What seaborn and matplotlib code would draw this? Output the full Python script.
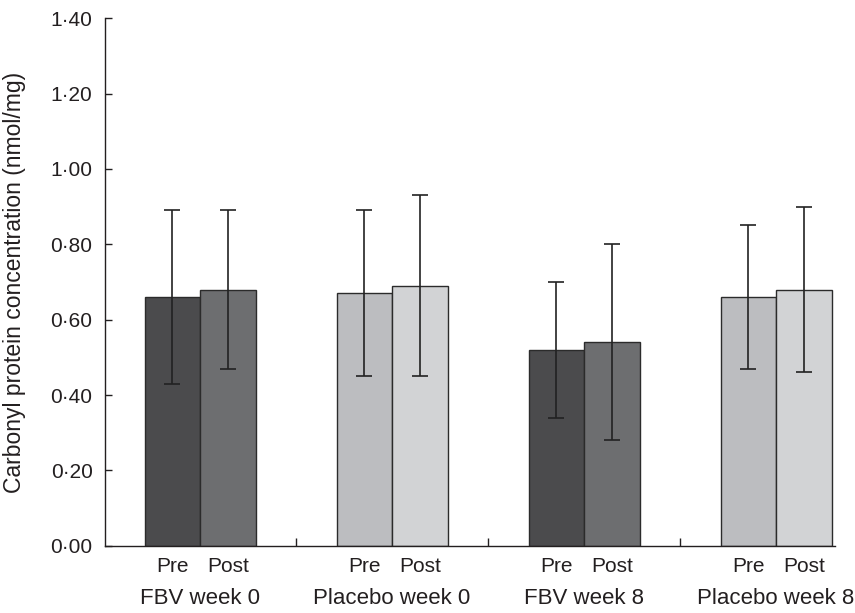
import matplotlib
matplotlib.use("Agg")
import matplotlib.pyplot as plt
import matplotlib.ticker as mticker
import seaborn as sns
import pandas as pd
import numpy as np

groups = ["FBV week 0", "Placebo week 0", "FBV week 8", "Placebo week 8"]
times = ["Pre", "Post"]
pre_means = [0.66, 0.67, 0.52, 0.66]
post_means = [0.68, 0.69, 0.54, 0.68]
pre_err = [0.23, 0.22, 0.18, 0.19]
post_err = [0.21, 0.24, 0.26, 0.22]
y_ticks = [0.0, 0.2, 0.4, 0.6, 0.8, 1.0, 1.2, 1.4]

colors = {
    ("FBV", "Pre"): "#4b4b4d",
    ("FBV", "Post"): "#6d6e70",
    ("Placebo", "Pre"): "#bcbdc0",
    ("Placebo", "Post"): "#d2d3d5",
}

rows = []
for g, pm, pe, qm, qe in zip(groups, pre_means, pre_err, post_means, post_err):
    rows.append({"group": g, "time": "Pre", "value": pm, "err": pe})
    rows.append({"group": g, "time": "Post", "value": qm, "err": qe})
df = pd.DataFrame(rows)

sns.set_style("ticks")
plt.rcParams["font.family"] = ["Liberation Sans", "DejaVu Sans"]

fig = plt.figure(figsize=(8.55, 6.13), dpi=100)
ax = fig.add_axes([105 / 855, 1 - 545.7 / 613, (835 - 105) / 855, (545.7 - 18.3) / 613])

sns.barplot(data=df, x="group", y="value", hue="time", order=groups,
            hue_order=times, width=0.578, errorbar=None, ax=ax,
            palette=["#888888", "#aaaaaa"], legend=False,
            edgecolor="#2b2b2b", linewidth=1.0)

# recolor and add error bars
for ti, t in enumerate(times):
    cont = ax.containers[ti]
    for gi, patch in enumerate(cont.patches):
        arm = "FBV" if groups[gi].startswith("FBV") else "Placebo"
        patch.set_facecolor(colors[(arm, t)])
        sub = df[(df.group == groups[gi]) & (df.time == t)].iloc[0]
        cx = patch.get_x() + patch.get_width() / 2
        ax.errorbar(cx, sub.value, yerr=sub.err, fmt="none", ecolor="#222222",
                    elinewidth=1.2, capsize=5.5, capthick=1.2, zorder=5)

ax.set_ylim(0, 1.40)
ax.set_xlim(-0.495, 3.307)
ax.set_yticks(y_ticks)
ax.yaxis.set_major_formatter(mticker.FuncFormatter(lambda v, p: f"{v:.2f}".replace(".", "·")))
ax.tick_params(axis="y", direction="in", length=5, width=1.0, pad=9,
               labelsize=15, colors="#231f20")

# bar-level labels
centers = []
labels = []
for ti, t in enumerate(times):
    for patch in ax.containers[ti].patches:
        centers.append(patch.get_x() + patch.get_width() / 2)
        labels.append(t)
ax.set_xticks(centers)
ax.set_xticklabels(labels)
ax.tick_params(axis="x", which="major", length=0, pad=8, labelsize=15, colors="#231f20")
ax.set_xticks([0.5, 1.5, 2.5], minor=True)
ax.tick_params(axis="x", which="minor", direction="in", length=6, width=1.0, color="#231f20")

for gi, g in enumerate(groups):
    ax.text(gi, -0.1, g, transform=ax.get_xaxis_transform(), ha="center",
            va="center", fontsize=16, color="#231f20")

ax.set_xlabel("")
ax.set_ylabel("")
fig.text(15 / 855, 1 - 282.5 / 613, "Carbonyl protein concentration (nmol/mg)",
         rotation=90, ha="center", va="center", fontsize=16.5, color="#231f20")

sns.despine(ax=ax)
for s in ["left", "bottom"]:
    ax.spines[s].set_linewidth(1.0)
    ax.spines[s].set_color("#231f20")

fig.savefig("out.png", dpi=100)
